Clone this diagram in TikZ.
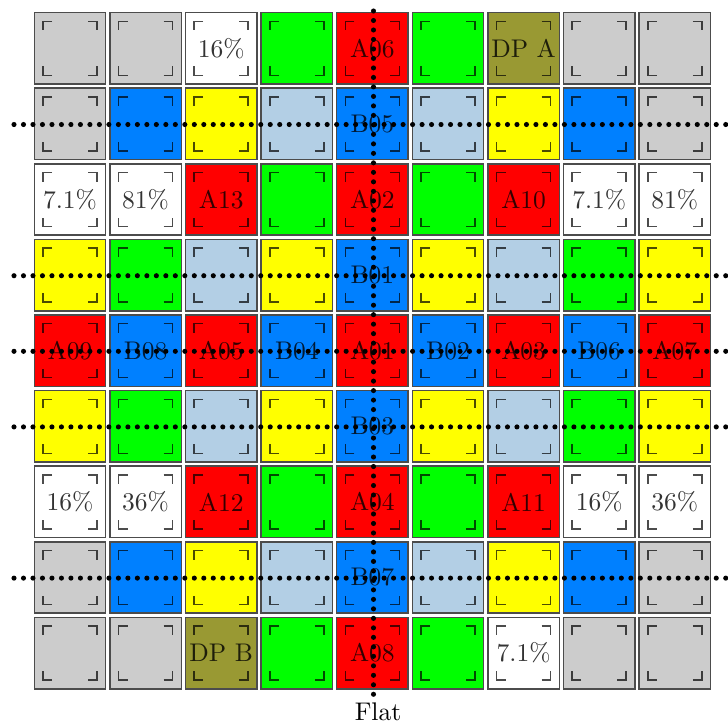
\documentclass[tikz,border=0pt]{standalone}
\definecolor{cg}{HTML}{CCCCCC}
\definecolor{cb}{HTML}{0080FF}
\definecolor{cy}{HTML}{FFFF00}
\definecolor{cl}{HTML}{B3CFE5}
\definecolor{cn}{HTML}{00FF00}
\definecolor{cr}{HTML}{FF0000}
\definecolor{co}{HTML}{999933}
\definecolor{cw}{HTML}{FFFFFF}
\tikzset{
  cell/.style={draw=black!70, line width=0.6pt, minimum size=28pt, inner sep=0pt, rectangle},
  lab/.style={text=black, text opacity=0.8, inner sep=0pt, font=\normalsize},
  cornermark/.style={draw=black, draw opacity=0.7, line width=0.6pt},
  dotline/.style={line width=2pt, line cap=round, dash pattern=on 0pt off 3.72pt},
}
\begin{document}
\begin{tikzpicture}[x=0.392pt,y=-0.392pt]
\useasboundingbox (0,0) rectangle (728,722);
\foreach \row [count=\r] in {
 {cg/{},cg/{},cw/16\%,cn/{},cr/A06,cn/{},co/DP A,cg/{},cg/{}},
 {cg/{},cb/{},cy/{},cl/{},cb/B05,cl/{},cy/{},cb/{},cg/{}},
 {cw/7.1\%,cw/81\%,cr/A13,cn/{},cr/A02,cn/{},cr/A10,cw/7.1\%,cw/81\%},
 {cy/{},cn/{},cl/{},cy/{},cb/B01,cy/{},cl/{},cn/{},cy/{}},
 {cr/A09,cb/B08,cr/A05,cb/B04,cr/A01,cb/B02,cr/A03,cb/B06,cr/A07},
 {cy/{},cn/{},cl/{},cy/{},cb/B03,cy/{},cl/{},cn/{},cy/{}},
 {cw/16\%,cw/36\%,cr/A12,cn/{},cr/A04,cn/{},cr/A11,cw/16\%,cw/36\%},
 {cg/{},cb/{},cy/{},cl/{},cb/B07,cl/{},cy/{},cb/{},cg/{}},
 {cg/{},cg/{},co/DP B,cn/{},cr/A08,cn/{},cw/7.1\%,cg/{},cg/{}}}
{
  \foreach \fc/\lab [count=\c] in \row {
    \pgfmathsetmacro\X{70+75.6*(\c-1)}
    \pgfmathsetmacro\Y{48.3+75.6*(\r-1)}
    \node[cell, fill=\fc] (c\r-\c) at (\X,\Y) {};
    \node[lab] (t\r-\c) at (\X,\Y) {\lab};
    \begin{scope}[shift={(\X,\Y)}]
      \draw[cornermark] (-18,-27) -- (-27,-27) -- (-27,-18);
      \draw[cornermark] (18,-27) -- (27,-27) -- (27,-18);
      \draw[cornermark] (-18,27) -- (-27,27) -- (-27,18);
      \draw[cornermark] (18,27) -- (27,27) -- (27,18);
    \end{scope}
  }
}
\foreach \r in {2,4,5,6,8} {
  \pgfmathsetmacro\Y{48.3+75.6*(\r-1)+0.6}
  \coordinate (hl\r) at (14,\Y);
  \coordinate (hr\r) at (745,\Y);
  \draw[dotline] (hl\r) -- (hr\r);
}
\coordinate (vtop) at (373.5,11);
\coordinate (vbot) at (373.5,698);
\draw[dotline] (vtop) -- (vbot);
\node[anchor=north, inner sep=0pt] (flat) at (378,702) {Flat};
\end{tikzpicture}
\end{document}
